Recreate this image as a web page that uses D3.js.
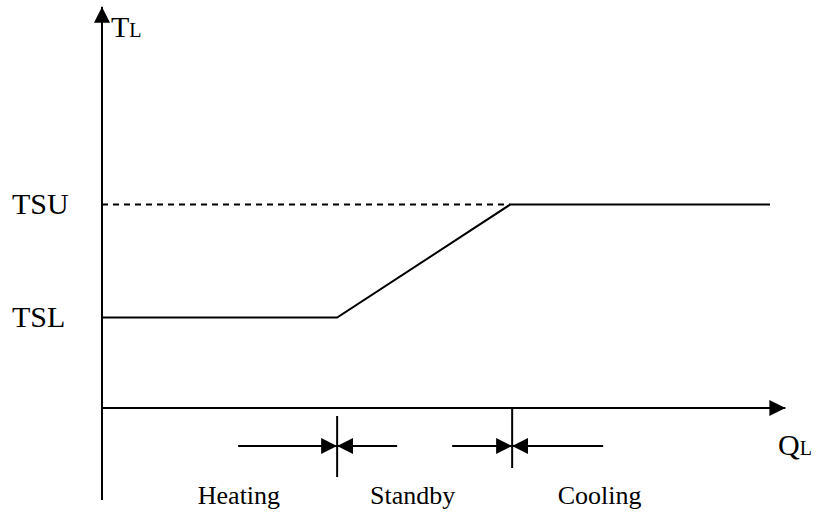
<!DOCTYPE html>
<html><head><meta charset="utf-8">
<script src="https://cdn.jsdelivr.net/npm/d3@7/dist/d3.min.js"></script>
<style>body{margin:0;background:#fff}text{font-family:"Liberation Serif","Times New Roman",serif;fill:#000}</style>
</head><body><svg id="c" width="822" height="512"></svg>
<script>
// ---- data ----
const levelLabels = ["TSL", "TSU"];
const levelValues = [0.8, 1.8];
const profileQ = [0, 35.2, 61.1, 100];
const profileT = [0.8, 0.8, 1.8, 1.8];
const dashedQ = [0, 61.1];
const boundaryQ = [35.2, 61.4];
const modeLabels = ["Heating", "Standby", "Cooling"];
const modeQ = [20.5, 46.5, 74.5];

const svg = d3.select("#c");
const x = d3.scaleLinear().domain([0, 100]).range([102, 770]);
const y = d3.scaleLinear().domain([0, 1]).range([408, 295]);

// arrowhead markers
const defs = svg.append("defs");
defs.append("marker").attr("id","ah").attr("viewBox","0 0 16 16")
  .attr("refX",16).attr("refY",8).attr("markerWidth",16).attr("markerHeight",16)
  .attr("markerUnits","userSpaceOnUse").attr("orient","auto")
  .append("path").attr("d","M0,0L16,8L0,16Z").attr("fill","#000");

// axes
svg.append("line").attr("x1",x(0)).attr("x2",x(0)).attr("y1",500).attr("y2",y(3.55))
  .attr("stroke","#000").attr("stroke-width",2).attr("marker-end","url(#ah)");
svg.append("line").attr("x1",x(0)).attr("x2",x(102.3)).attr("y1",y(0)).attr("y2",y(0))
  .attr("stroke","#000").attr("stroke-width",2).attr("marker-end","url(#ah)");

svg.append("text").attr("x",x(0)+9).attr("y",37).attr("font-size",30)
  .text("T").append("tspan").attr("font-size",20).text("L");
svg.append("text").attr("x",x(101.2)).attr("y",455).attr("font-size",30)
  .text("Q").append("tspan").attr("font-size",20).text("L");

// level labels
svg.selectAll("text.lvl").data(levelLabels).join("text").attr("class","lvl")
  .attr("x",12).attr("y",(d,i)=>y(levelValues[i])+9).attr("font-size",30).text(d=>d);

// dashed TSU reference
svg.append("line").attr("x1",x(dashedQ[0])).attr("x2",x(dashedQ[1]))
  .attr("y1",y(levelValues[1])).attr("y2",y(levelValues[1]))
  .attr("stroke","#000").attr("stroke-width",2).attr("stroke-dasharray","6,5");

// profile
const line = d3.line().x(d=>x(d[0])).y(d=>y(d[1]));
svg.append("path").datum(profileQ.map((q,i)=>[q,profileT[i]])).attr("d",line)
  .attr("fill","none").attr("stroke","#000").attr("stroke-width",2);

// boundaries with arrows
const ticks = [{y1:416,y2:477,l:99,r:60},{y1:408,y2:468,l:60,r:91}];
boundaryQ.forEach((q,i)=>{
  const bx = x(q), t = ticks[i], ay = 446;
  svg.append("line").attr("x1",bx).attr("x2",bx).attr("y1",t.y1).attr("y2",t.y2)
    .attr("stroke","#000").attr("stroke-width",2);
  svg.append("line").attr("x1",bx-t.l).attr("x2",bx).attr("y1",ay).attr("y2",ay)
    .attr("stroke","#000").attr("stroke-width",2).attr("marker-end","url(#ah)");
  svg.append("line").attr("x1",bx+t.r).attr("x2",bx).attr("y1",ay).attr("y2",ay)
    .attr("stroke","#000").attr("stroke-width",2).attr("marker-end","url(#ah)");
});

svg.selectAll("text.mode").data(modeLabels).join("text").attr("class","mode")
  .attr("x",(d,i)=>x(modeQ[i])).attr("y",504).attr("text-anchor","middle")
  .attr("font-size",26).text(d=>d);
</script></body></html>
